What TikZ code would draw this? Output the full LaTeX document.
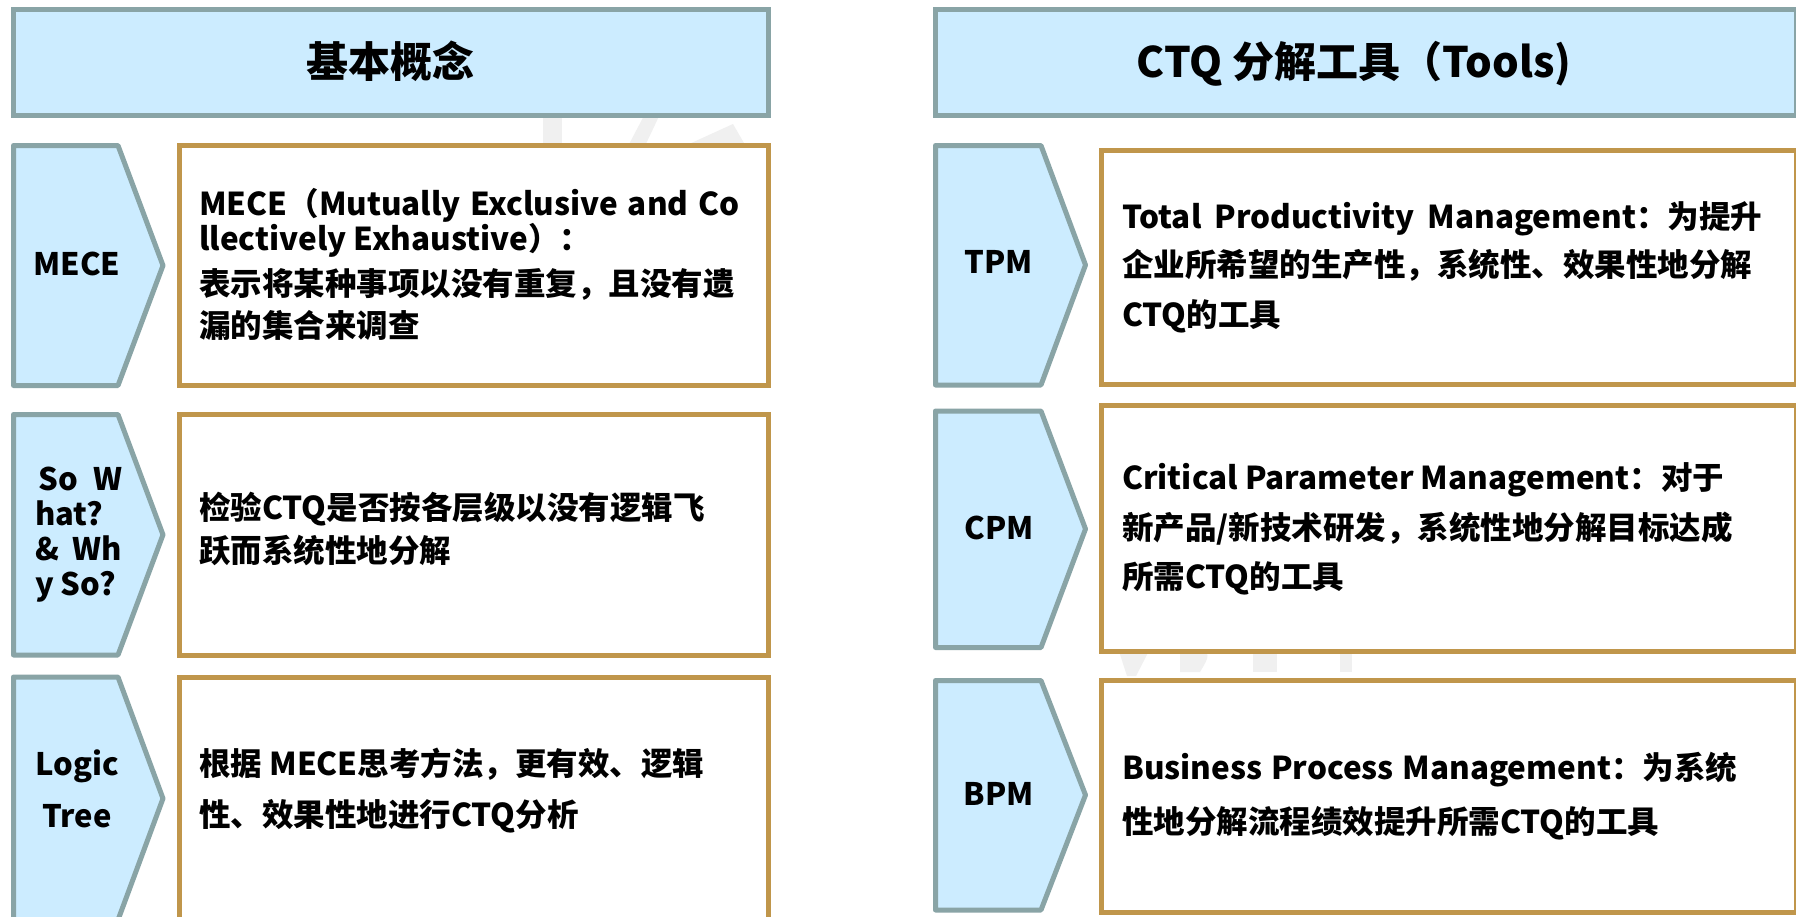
\documentclass[tikz,border=0pt]{standalone}
\usepackage{fontspec}
\setmainfont{Noto Sans CJK SC}
\definecolor{hdrfill}{RGB}{204,236,255}
\definecolor{hdrline}{RGB}{137,164,166}
\definecolor{gold}{RGB}{192,150,75}
\definecolor{wmark}{RGB}{240,240,240}
\begin{document}
\begin{tikzpicture}[x=1pt,y=-1pt,
  hdr/.style={draw=hdrline, fill=hdrfill, line width=5pt},
  chev/.style={draw=hdrline, fill=hdrfill, line width=5pt, line join=round},
  tbox/.style={draw=gold, fill=white, line width=5pt},
  wm/.style={fill=wmark, draw=none},
  title/.style={inner sep=0pt, font=\bfseries\fontsize{42}{50}\selectfont, anchor=base},
  lbl/.style={inner sep=0pt, font=\bfseries\fontsize{31}{35}\selectfont, anchor=base},
  lblw/.style={inner sep=0pt, font=\bfseries\fontsize{31}{35}\selectfont, anchor=base west},
  body/.style={inner sep=0pt, font=\bfseries\fontsize{31.5}{38}\selectfont, anchor=base west},
]
\useasboundingbox (0,0) rectangle (1796,916);
\clip (0,0) rectangle (1796,916);
\fill[white] (0,0) rectangle (1796,916);

% faint watermark fragments
\fill[wm] (543,110) rectangle (562,150);
\fill[wm] (647,110) -- (662,110) -- (643,150) -- (626,150) -- cycle;
\fill[wm] (676,150) -- (733,124) -- (748,150) -- cycle;
\fill[wm] (1117,645) -- (1152,645) -- (1136,676) -- (1127,676) -- cycle;
\fill[wm] (1180,645) -- (1200,645) .. controls (1210,655) .. (1200,672) -- (1180,672) -- cycle;
\fill[wm] (1253,645) rectangle (1277,672);
\fill[wm] (1340,645) rectangle (1352,672);

% headers
\draw[hdr] (13.5,9.5) rectangle (768.5,115.5);
\draw[hdr] (935.5,9.5) rectangle (1796.5,115.5);
\node[title] (t1) at (390,77) {基本概念};
\node[title] (t2) at (1354,77) {CTQ 分解工具（Tools)};

% left chevrons
\draw[chev] (13.5,145.5) -- (118,145.5) -- (163,265.5) -- (118,385.5) -- (13.5,385.5) -- cycle;
\draw[chev] (13.5,414.5) -- (118,414.5) -- (163,534.75) -- (118,655) -- (13.5,655) -- cycle;
\draw[chev] (13.5,677) -- (118,677) -- (163,798.5) -- (118,920) -- (13.5,920) -- cycle;

% left boxes
\draw[tbox] (179.5,145.5) rectangle (768.5,385.5);
\draw[tbox] (179.5,414.5) rectangle (768.5,655);
\draw[tbox] (179.5,677) rectangle (768.5,922);

% right chevrons
\draw[chev] (935.5,145.5) -- (1041,145.5) -- (1085.5,265) -- (1041,385) -- (935.5,385) -- cycle;
\draw[chev] (935.5,411) -- (1041,411) -- (1085.5,529) -- (1041,647.5) -- (935.5,647.5) -- cycle;
\draw[chev] (935.5,680.5) -- (1041,680.5) -- (1085.5,795) -- (1041,910) -- (935.5,910) -- cycle;

% right boxes
\draw[tbox] (1101.5,150.5) rectangle (1796.5,384);
\draw[tbox] (1101.5,405.5) rectangle (1796.5,651.5);
\draw[tbox] (1101.5,680.5) rectangle (1796.5,912.5);

% chevron labels
\node[lbl] (l1) at (77,275) {MECE};
\node[lblw] (l2a) at (38,490) {\makebox[84pt][s]{So W}};
\node[lblw] (l2b) at (35,525) {hat?};
\node[lblw] (l2c) at (35,560.5) {\makebox[87pt][s]{\& Wh}};
\node[lblw] (l2d) at (35,595) {y So?};
\node[lbl] (l3a) at (77,775) {Logic};
\node[lbl] (l3b) at (77,827) {Tree};
\node[lbl] (r1) at (999,273) {TPM};
\node[lbl] (r2) at (999,539) {CPM};
\node[lbl] (r3) at (999,805) {BPM};

% left texts
\node[body] (a1) at (199,215) {\makebox[540pt][s]{MECE（Mutually Exclusive and Co}};
\node[body] (a2) at (199,250) {llectively Exhaustive）：};
\node[body] (a3) at (199,295) {表示将某种事项以没有重复，且没有遗};
\node[body] (a4) at (199,337) {漏的集合来调查};
\node[body] (b1) at (199,519) {检验CTQ是否按各层级以没有逻辑飞};
\node[body] (b2) at (199,562) {跃而系统性地分解};
\node[body] (c1) at (199,775) {根据 MECE思考方法，更有效、逻辑};
\node[body] (c2) at (199,826) {性、效果性地进行CTQ分析};

% right texts
\node[body] (d1) at (1122,228) {\makebox[640pt][s]{Total Productivity Management：为提升}};
\node[body] (d2) at (1122,276) {企业所希望的生产性，系统性、效果性地分解};
\node[body] (d3) at (1122,326) {CTQ的工具};
\node[body] (e1) at (1122,489) {Critical Parameter Management：对于};
\node[body] (e2) at (1122,539) {新产品/新技术研发，系统性地分解目标达成};
\node[body] (e3) at (1122,588) {所需CTQ的工具};
\node[body] (f1) at (1122,779) {\makebox[615pt][s]{Business Process Management：为系统}};
\node[body] (f2) at (1122,833) {性地分解流程绩效提升所需CTQ的工具};
\end{tikzpicture}
\end{document}
